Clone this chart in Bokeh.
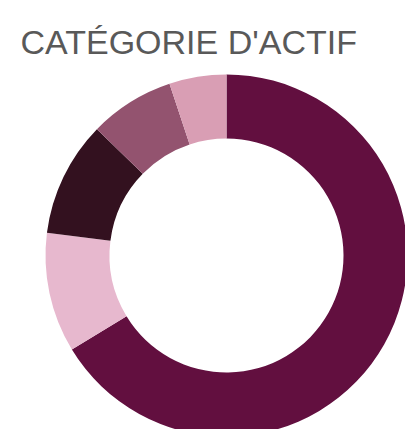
import numpy as np
from bokeh.plotting import figure
from bokeh.models import Range1d, ColumnDataSource
from bokeh.core.properties import value
from bokeh.embed import file_html
from bokeh.resources import INLINE

title_text = "CATÉGORIE D'ACTIF"
categories = ["Catégorie 1", "Catégorie 2", "Catégorie 3", "Catégorie 4", "Catégorie 5"]
shares = [66.3, 10.7, 10.3, 7.6, 5.1]
colors = ["#620F3F", "#E7B8CE", "#33111F", "#93536F", "#D99EB4"]

W, H = 405, 429
p = figure(width=W, height=H, output_backend="svg", toolbar_location=None,
           x_axis_type=None, y_axis_type=None, min_border=0,
           x_range=Range1d(0, W), y_range=Range1d(0, H))
p.grid.visible = False
p.outline_line_color = None
p.background_fill_color = "white"
p.border_fill_color = "white"

vals = np.array(shares, dtype=float)
frac = vals / vals.sum()
cum = np.concatenate([[0], np.cumsum(frac)])
start = np.pi / 2 - 2 * np.pi * cum[:-1]
end = np.pi / 2 - 2 * np.pi * cum[1:]

src = ColumnDataSource(dict(cat=categories, start=start, end=end, color=colors))
cx, cy = 226, H - 255
p.annular_wedge(x=cx, y=cy, inner_radius=117, outer_radius=181,
                start_angle="start", end_angle="end", direction="clock",
                fill_color="color", line_color=None, source=src)

p.text(x=[20], y=[H - 41], text=[title_text], text_font=value("Liberation Sans"),
       text_font_size="34px", text_color="#595959", text_baseline="alphabetic",
       text_align="left")

open("out.html", "w").write(file_html(p, INLINE))
